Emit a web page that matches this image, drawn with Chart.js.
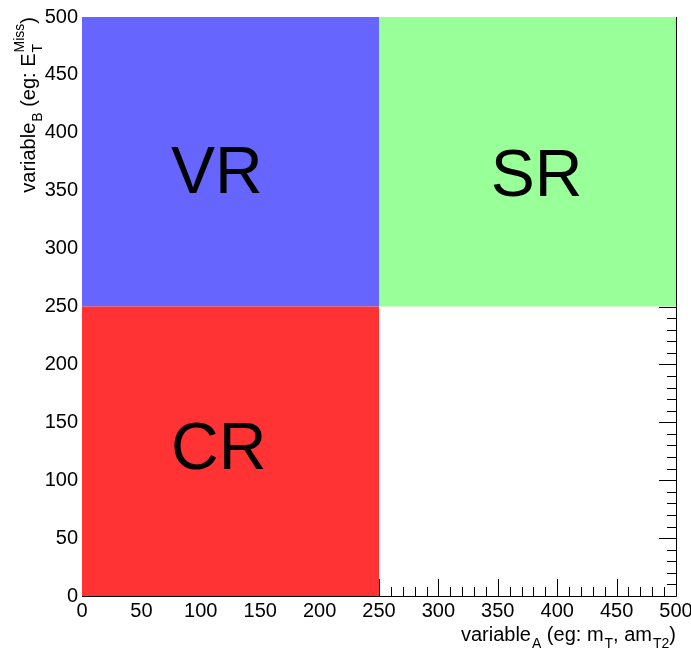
<!DOCTYPE html>
<html>
<head>
<meta charset="utf-8">
<script src="https://cdn.jsdelivr.net/npm/chart.js@4/dist/chart.umd.min.js"></script>
<style>
  html, body { margin: 0; padding: 0; background: #fff; }
  #wrap { width: 691px; height: 654px; }
</style>
</head>
<body>
<div id="wrap"><canvas id="c" width="691" height="654"></canvas></div>
<script>
// Analysis regions in the (variable_A, variable_B) plane
const regionNames = ['CR', 'VR', 'SR'];
const regionXMin = [0, 0, 250];
const regionXMax = [250, 250, 500];
const regionYMin = [0, 250, 250];
const regionYMax = [250, 500, 500];

// Axis ranges and tick spacing
const xRange = [0, 500];
const yRange = [0, 500];
const majorStep = 50;
const minorStep = 10;

const regionColors = { CR: 'rgb(255,51,51)', VR: 'rgb(102,102,255)', SR: 'rgb(153,255,153)' };
// label anchor (left edge, baseline) in axis units
const labelAnchors = { CR: [75, 110], VR: [75, 348], SR: [344, 345] };

const FONT = '"Liberation Sans", Helvetica, Arial, sans-serif';

const datasets = regionNames.map((name, i) => ({
  label: name,
  data: [
    { x: regionXMin[i], y: regionYMax[i] },
    { x: regionXMax[i], y: regionYMax[i] }
  ],
  showLine: true,
  fill: { value: regionYMin[i] },
  backgroundColor: regionColors[name],
  borderColor: 'transparent',
  borderWidth: 0,
  pointRadius: 0,
  tension: 0
}));

// Frame and inward ticks on the right and bottom edges (drawn under the regions)
const framePlugin = {
  id: 'frame',
  beforeDatasetsDraw(chart) {
    const { ctx, chartArea: a, scales: { x, y } } = chart;
    ctx.save();
    ctx.strokeStyle = '#000';
    ctx.lineWidth = 1;
    ctx.beginPath();
    ctx.moveTo(a.left, a.bottom + 0.5);
    ctx.lineTo(a.right + 0.5, a.bottom + 0.5);
    ctx.lineTo(a.right + 0.5, a.top);
    ctx.stroke();
    const majLen = 17, minLen = 9;
    ctx.beginPath();
    for (let v = xRange[0]; v <= xRange[1] + 1e-9; v += minorStep) {
      const px = Math.round(x.getPixelForValue(v)) + 0.5;
      const len = (v % majorStep === 0) ? majLen : minLen;
      ctx.moveTo(px, a.bottom);
      ctx.lineTo(px, a.bottom - len);
    }
    for (let v = yRange[0]; v <= yRange[1] + 1e-9; v += minorStep) {
      const py = Math.round(y.getPixelForValue(v)) + 0.5;
      const len = (v % majorStep === 0) ? majLen : minLen;
      ctx.moveTo(a.right, py);
      ctx.lineTo(a.right - len, py);
    }
    ctx.stroke();
    ctx.restore();
  },
  afterDatasetsDraw(chart) {
    const { ctx, scales: { x, y } } = chart;
    ctx.save();
    ctx.fillStyle = '#000';
    ctx.font = '66px ' + FONT;
    ctx.textAlign = 'left';
    ctx.textBaseline = 'alphabetic';
    regionNames.forEach(name => {
      const [ax, ay] = labelAnchors[name];
      ctx.fillText(name, x.getPixelForValue(ax), y.getPixelForValue(ay));
    });
    ctx.restore();
  },
  afterDraw(chart) {
    const { ctx, chartArea: a } = chart;
    // rich text: segments of {t, sub, sup}
    const base = 20, small = 14;
    function measure(segs) {
      let w = 0;
      segs.forEach(s => {
        if (s.t) { ctx.font = base + 'px ' + FONT; w += ctx.measureText(s.t).width; }
        else {
          ctx.font = small + 'px ' + FONT;
          w += Math.max(s.sub ? ctx.measureText(s.sub).width : 0, s.sup ? ctx.measureText(s.sup).width : 0) + 1;
        }
      });
      return w;
    }
    function draw(segs, x0) {
      let cx = x0;
      segs.forEach(s => {
        if (s.t) {
          ctx.font = base + 'px ' + FONT;
          ctx.fillText(s.t, cx, 0);
          cx += ctx.measureText(s.t).width;
        } else {
          ctx.font = small + 'px ' + FONT;
          let w = 0;
          if (s.sub) { ctx.fillText(s.sub, cx + 1, 7); w = Math.max(w, ctx.measureText(s.sub).width); }
          if (s.sup) { ctx.fillText(s.sup, cx + 1, -11); w = Math.max(w, ctx.measureText(s.sup).width); }
          cx += w + 1;
        }
      });
    }
    const xTitle = [{ t: 'variable' }, { sub: 'A' }, { t: ' (eg: m' }, { sub: 'T' }, { t: ', am' }, { sub: 'T2' }, { t: ')' }];
    const yTitle = [{ t: 'variable' }, { sub: 'B' }, { t: ' (eg: E' }, { sub: 'T', sup: 'Miss' }, { t: ')' }];
    ctx.save();
    ctx.fillStyle = '#000';
    ctx.textAlign = 'left';
    ctx.textBaseline = 'alphabetic';
    ctx.translate(a.right, 641);
    draw(xTitle, -measure(xTitle));
    ctx.restore();

    ctx.save();
    ctx.fillStyle = '#000';
    ctx.textAlign = 'left';
    ctx.textBaseline = 'alphabetic';
    ctx.translate(35, a.top);
    ctx.rotate(-Math.PI / 2);
    draw(yTitle, -measure(yTitle));
    ctx.restore();
  }
};

new Chart(document.getElementById('c'), {
  type: 'scatter',
  data: { datasets },
  options: {
    responsive: false,
    animation: false,
    devicePixelRatio: 1,
    layout: { padding: { top: 17, right: 15, left: 0, bottom: 0 } },
    plugins: { legend: { display: false }, tooltip: { enabled: false } },
    scales: {
      x: {
        type: 'linear', min: xRange[0], max: xRange[1],
        grid: { display: false, drawTicks: false },
        border: { display: false },
        ticks: {
          stepSize: majorStep, autoSkip: false, maxRotation: 0, padding: 3,
          color: '#000', font: { family: FONT, size: 20 }
        },
        afterFit(s) { s.height = 58; s.paddingLeft = 0; s.paddingRight = 0; }
      },
      y: {
        type: 'linear', min: yRange[0], max: yRange[1],
        grid: { display: false, drawTicks: false },
        border: { display: false },
        ticks: {
          stepSize: majorStep, autoSkip: false, padding: 4,
          color: '#000', font: { family: FONT, size: 20 }
        },
        afterFit(s) { s.width = 82; s.paddingTop = 0; s.paddingBottom = 0; }
      }
    }
  },
  plugins: [framePlugin]
});
</script>
</body>
</html>
